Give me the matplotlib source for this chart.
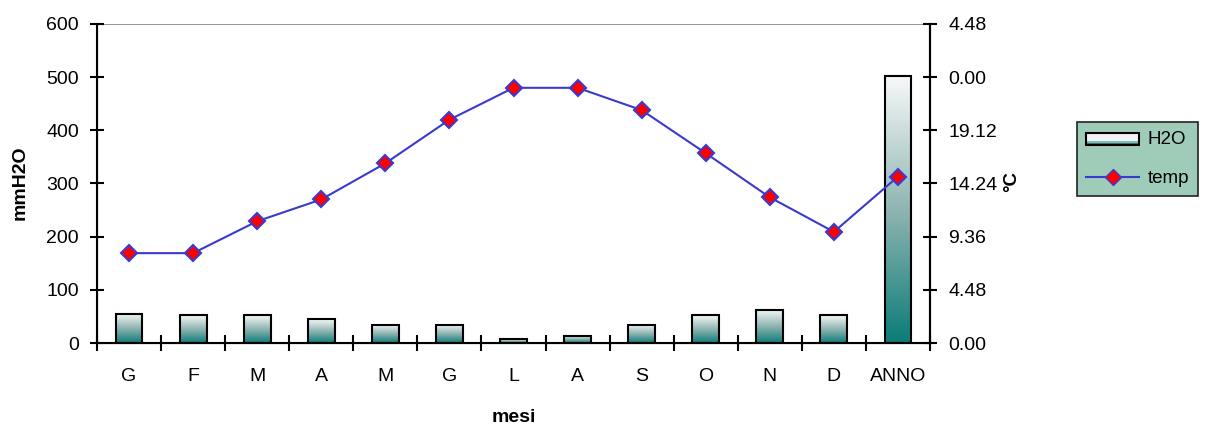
import numpy as np
import matplotlib
matplotlib.use("Agg")
import matplotlib.pyplot as plt
from matplotlib.colors import LinearSegmentedColormap
from matplotlib.patches import Rectangle
from matplotlib.lines import Line2D
from matplotlib.legend_handler import HandlerBase

plt.rcParams['font.family'] = ['Liberation Sans', 'DejaVu Sans']

mesi = ["G", "F", "M", "A", "M", "G", "L", "A", "S", "O", "N", "D", "ANNO"]
h2o = [55, 52, 52, 45, 34, 34, 7, 14, 34, 52, 63, 52, 502]
# temperature drawn on the same pixel scale as the left axis
temp = [169, 169, 229, 270, 338, 420, 480, 480, 438, 357, 274, 209, 313]
right_ticks = [0, 100, 200, 300, 400, 500, 600]
right_labels = ["0.00", "4.48", "9.36", "14.24", "19.12", "0.00", "4.48"]

teal = LinearSegmentedColormap.from_list("teal", ["#0b7c78", "#8fb5b2", "#f7f9f9"])
fs = 14

fig = plt.figure(figsize=(12.05, 4.28), dpi=100)
ax = fig.add_axes([97 / 1205, 1 - 343 / 428, 833 / 1205, 319 / 428])

x = np.arange(len(mesi))
bars = ax.bar(x, h2o, width=0.42, facecolor="none", edgecolor="black", linewidth=1.5, zorder=3)
grad = np.linspace(0, 1, 256).reshape(-1, 1)
for b in bars:
    x0, y0 = b.get_x(), b.get_y()
    w, h = b.get_width(), b.get_height()
    im = ax.imshow(grad, cmap=teal, aspect="auto", origin="lower",
                   extent=[x0, x0 + w, y0, y0 + h], zorder=2)
    im.set_clip_path(b)

ax.plot(x, temp, color="#3a3ad0", linewidth=1.5, marker="D", markersize=8.5,
        markerfacecolor="red", markeredgecolor="#3a3ad0", markeredgewidth=1.5, zorder=4)

ax.set_xlim(-0.5, 12.5)
ax.set_ylim(0, 600)
ax.set_yticks(range(0, 601, 100))
ax.set_xticks(x)
ax.set_xticklabels(mesi)
ax.set_xticks(np.arange(-0.5, 13, 1), minor=True)
ax.tick_params(axis="x", which="major", length=0, pad=18, labelsize=fs)
ax.tick_params(axis="x", which="minor", length=11, width=1.5, direction="inout")
ax.tick_params(axis="y", length=10, width=1.5, direction="inout", labelsize=fs, pad=8)
ax.axhline(600, color="#999999", linewidth=1.5, zorder=1)
ax.spines["top"].set_visible(False)
for s in ["left", "bottom", "right"]:
    ax.spines[s].set_linewidth(1.5)
ax.text(0.5, (343 - 417) / 319, "mesi", transform=ax.transAxes, fontsize=fs,
        fontweight="bold", ha="center", va="center")
ax.set_ylabel("mmH2O", fontsize=fs, fontweight="bold", va="center")
ax.yaxis.set_label_coords((20 - 97) / 833, (343 - 183) / 319)

ax2 = ax.twinx()
ax2.set_ylim(0, 600)
ax2.set_yticks(right_ticks)
ax2.set_yticklabels(right_labels)
ax2.tick_params(axis="y", length=10, width=1.5, direction="inout", labelsize=fs, pad=8)
ax2.spines["top"].set_visible(False)
ax2.spines["right"].set_linewidth(1.5)
fig.text(1012 / 1205, 1 - 182 / 428, "°C", rotation=90, fontsize=13.5, fontweight="bold",
         ha="center", va="center")


class GradHandler(HandlerBase):
    def create_artists(self, legend, orig_handle, xdescent, ydescent, width, height, fontsize, trans):
        top = Rectangle((xdescent, ydescent + height * 0.3), width, height * 0.7,
                        facecolor="#eef3f3", edgecolor="none", transform=trans)
        mid = Rectangle((xdescent, ydescent + height * 0.15), width, height * 0.2,
                        facecolor="#8fb5b2", edgecolor="none", transform=trans)
        bot = Rectangle((xdescent, ydescent), width, height * 0.18,
                        facecolor="#2a7d78", edgecolor="none", transform=trans)
        frame = Rectangle((xdescent, ydescent), width, height, facecolor="none",
                          edgecolor="black", linewidth=1.5, transform=trans)
        return [top, mid, bot, frame]


bar_handle = Rectangle((0, 0), 1, 1)
line_handle = Line2D([], [], color="#3a3ad0", linewidth=1.5, marker="D", markersize=8.5,
                     markerfacecolor="red", markeredgecolor="#3a3ad0")
leg = fig.legend([bar_handle, line_handle], ["H2O", "temp"],
                 handler_map={Rectangle: GradHandler()},
                 loc="upper left", bbox_to_anchor=(1077 / 1205, 1 - 122 / 428),
                 fontsize=13.5, frameon=True, fancybox=False, handlelength=2.8,
                 handleheight=0.6, handletextpad=0.45, borderpad=0.5, labelspacing=1.15,
                 borderaxespad=0)
leg.get_frame().set_facecolor("#9fcbb9")
leg.get_frame().set_edgecolor("#222222")
leg.get_frame().set_linewidth(1.2)
leg.get_frame().set_alpha(1)

fig.savefig("out.png", dpi=100)
